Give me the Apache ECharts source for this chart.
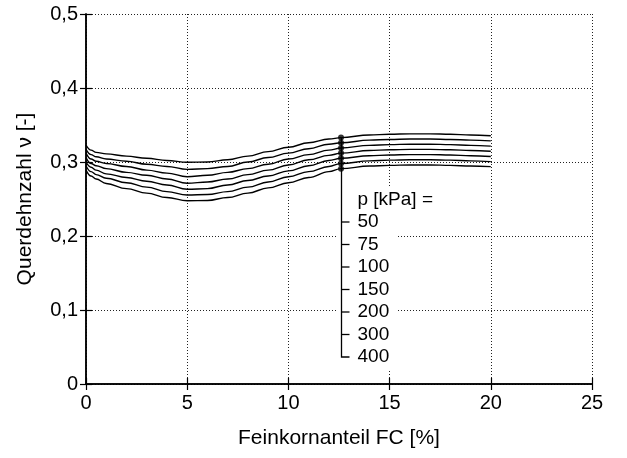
<!DOCTYPE html>
<html><head><meta charset="utf-8">
<script src="https://cdn.jsdelivr.net/npm/echarts@6/dist/echarts.min.js"></script>
<style>html,body{margin:0;padding:0;background:#fff}#c{width:627px;height:458px}</style>
</head><body><div id="c"></div><script>
// Feinkornanteil FC [%]
const fc = [0, 0.25, 0.5, 1, 2, 3, 4, 5, 6, 7, 8, 9, 10, 11, 12, 12.6, 14, 15, 16, 17, 18, 19, 20];
// Querdehnzahl per pressure level
const p50  = [0.323,0.316,0.313,0.311,0.308,0.305,0.302,0.2996,0.300,0.303,0.308,0.314,0.320,0.326,0.331,0.333,0.3365,0.3375,0.338,0.338,0.3375,0.3365,0.3355];
const p75  = [0.317,0.310,0.307,0.304,0.301,0.297,0.294,0.290,0.291,0.294,0.300,0.306,0.312,0.318,0.324,0.326,0.3295,0.3305,0.331,0.331,0.3305,0.3295,0.3285];
const p100 = [0.312,0.304,0.301,0.298,0.294,0.289,0.285,0.280,0.282,0.286,0.291,0.297,0.304,0.310,0.316,0.319,0.3225,0.3235,0.324,0.324,0.3235,0.3225,0.3215];
const p150 = [0.306,0.298,0.295,0.291,0.286,0.282,0.277,0.2712,0.273,0.277,0.283,0.289,0.296,0.303,0.309,0.312,0.3155,0.3165,0.317,0.317,0.3165,0.3155,0.3145];
const p200 = [0.300,0.293,0.289,0.284,0.279,0.274,0.269,0.2631,0.264,0.269,0.275,0.281,0.288,0.295,0.302,0.305,0.3085,0.3095,0.310,0.310,0.3095,0.3085,0.3075];
const p300 = [0.295,0.287,0.283,0.278,0.272,0.266,0.260,0.2554,0.256,0.260,0.266,0.273,0.280,0.287,0.294,0.298,0.3015,0.3025,0.303,0.303,0.3025,0.3015,0.3005];
const p400 = [0.289,0.281,0.277,0.271,0.264,0.258,0.252,0.2477,0.248,0.252,0.258,0.265,0.272,0.279,0.287,0.291,0.2945,0.2955,0.296,0.296,0.2955,0.2945,0.2937];
const curves = [p50, p75, p100, p150, p200, p300, p400];
const pLabels = ['50', '75', '100', '150', '200', '300', '400'];
const legendTitle = 'p [kPa] =';
const markerFC = 12.6;

const FONT = '"Liberation Sans", Arial, Helvetica, sans-serif';
const chart = echarts.init(document.getElementById('c'));
const mi = fc.indexOf(markerFC);

const series = curves.map((c, k) => ({
  type: 'line', name: pLabels[k], data: fc.map((x, i) => [x, c[i]]),
  smooth: 0.4, smoothMonotone: 'x', showSymbol: false, symbol: 'none',
  lineStyle: { color: '#000', width: 1.4 }, z: 3, silent: true
}));
series.push({
  type: 'scatter', data: curves.map(c => [markerFC, c[mi]]),
  symbol: 'circle', symbolSize: 6, itemStyle: { color: '#000' }, z: 4, silent: true
});

const axisCommon = {
  axisLine: { show: true, lineStyle: { color: '#000', width: 1.5 } },
  axisTick: { show: true, inside: true, length: 6, lineStyle: { color: '#000', width: 1.2 } },
};
chart.setOption({
  animation: false,
  backgroundColor: '#fff',
  grid: { left: 86, right: 35, top: 14, bottom: 74 },
  xAxis: [
    Object.assign({
      type: 'value', min: 0, max: 25, interval: 5, position: 'bottom',
      name: 'Feinkornanteil FC [%]', nameLocation: 'middle', nameGap: 44,
      nameTextStyle: { fontFamily: FONT, fontSize: 21, color: '#000' },
      axisLabel: { fontFamily: FONT, fontSize: 20, color: '#000', margin: 9 },
      splitLine: { show: true, lineStyle: { color: '#222', type: [1, 2], width: 1 } }
    }, axisCommon),
    Object.assign({
      type: 'value', min: 0, max: 25, interval: 5, position: 'top',
      axisLabel: { show: false }, splitLine: { show: false }
    }, axisCommon)
  ],
  yAxis: [
    Object.assign({
      type: 'value', min: 0, max: 0.5, interval: 0.1, position: 'left',
      name: 'Querdehnzahl ν [-]', nameLocation: 'middle', nameGap: 50,
      nameTextStyle: { fontFamily: FONT, fontSize: 21, color: '#000' },
      axisLabel: { fontFamily: FONT, fontSize: 20, color: '#000', margin: 8,
        formatter: v => (Math.round(v * 10) / 10).toString().replace('.', ',') },
      splitLine: { show: true, lineStyle: { color: '#222', type: [1, 2], width: 1 } }
    }, axisCommon),
    Object.assign({
      type: 'value', min: 0, max: 0.5, interval: 0.1, position: 'right',
      axisLabel: { show: false }, splitLine: { show: false }
    }, axisCommon)
  ],
  series: series
});

// legend annotation (leader line with ticks and labels)
const topPt = chart.convertToPixel({ xAxisIndex: 0, yAxisIndex: 0 }, [markerFC, p50[mi]]);
const lx = Math.round(topPt[0]) + 0.5;
const headerY = 200, firstY = 222, stepY = 22.5;
const lastY = firstY + stepY * (pLabels.length - 1);
const LFONT = '19px ' + FONT;
const g = [];
g.push({ type: 'polyline', shape: { points: [[lx, topPt[1]], [lx, lastY], [lx + 8, lastY]] },
  style: { stroke: '#000', lineWidth: 1.3, fill: null }, z: 10 });
// white block behind the labels
g.push({ type: 'rect', shape: { x: lx - 4, y: headerY - 13, width: 60, height: lastY - headerY + 25 },
  style: { fill: '#fff' }, z: 9 });
g.push({ type: 'rect', shape: { x: lx - 4, y: headerY - 13, width: 100, height: 24 },
  style: { fill: '#fff' }, z: 9 });
g.push({ type: 'text', x: lx + 16, y: headerY, style: { text: legendTitle, font: LFONT, fill: '#000', textVerticalAlign: 'middle' }, z: 11 });
pLabels.forEach((t, i) => {
  const y = firstY + stepY * i;
  if (i < pLabels.length - 1) g.push({ type: 'line', shape: { x1: lx, y1: y, x2: lx + 8, y2: y }, style: { stroke: '#000', lineWidth: 1.3 }, z: 10 });
  g.push({ type: 'text', x: lx + 16, y: y, style: { text: t, font: LFONT, fill: '#000', textVerticalAlign: 'middle' }, z: 11 });
});
chart.setOption({ graphic: g });
</script></body></html>
